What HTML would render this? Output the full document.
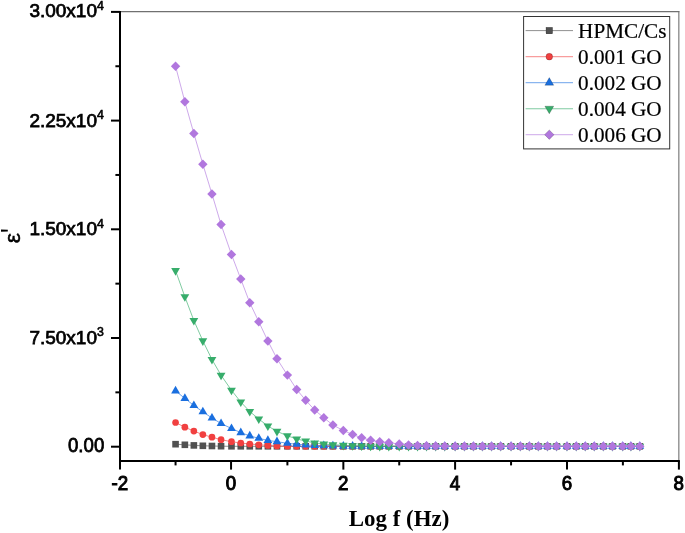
<!DOCTYPE html>
<html><head><meta charset="utf-8"><title>Log f (Hz)</title>
<style>html,body{margin:0;padding:0;background:#fff}svg{display:block}</style>
</head><body>
<svg width="685" height="533" viewBox="0 0 685 533">
<rect width="685" height="533" fill="#fff"/>
<line x1="120.0" y1="11.6" x2="679.35" y2="11.6" stroke="#707070" stroke-width="1.1"/>
<line x1="678.85" y1="11.1" x2="678.85" y2="461.0" stroke="#707070" stroke-width="1.1"/>
<polyline points="175.56,444.20 184.86,444.80 193.86,445.40 202.86,445.80 211.96,446.00 221.06,446.20 231.48,446.30 240.78,446.30 249.78,446.30 258.78,446.30 267.88,446.30 276.98,446.30 287.40,446.30 296.70,446.30 305.70,446.30 314.70,446.30 323.80,446.30 332.90,446.30 343.31,446.30 352.61,446.30 361.61,446.30 370.61,446.30 379.71,446.30 388.81,446.30 399.23,446.30 408.53,446.30 417.53,446.30 426.53,446.30 435.63,446.30 444.73,446.30 455.14,446.30 464.44,446.30 473.44,446.30 482.44,446.30 491.54,446.30 500.64,446.30 511.06,446.30 520.36,446.30 529.36,446.30 538.36,446.30 547.46,446.30 556.56,446.30 566.98,446.30 576.28,446.30 585.28,446.30 594.28,446.30 603.38,446.30 612.48,446.30 622.69,446.30 630.89,446.30 639.79,446.30" fill="none" stroke="#515151" stroke-width="0.8" stroke-opacity="0.8"/>
<g><rect x="172.26" y="440.90" width="6.6" height="6.6" fill="#515151"/><rect x="181.56" y="441.50" width="6.6" height="6.6" fill="#515151"/><rect x="190.56" y="442.10" width="6.6" height="6.6" fill="#515151"/><rect x="199.56" y="442.50" width="6.6" height="6.6" fill="#515151"/><rect x="208.66" y="442.70" width="6.6" height="6.6" fill="#515151"/><rect x="217.76" y="442.90" width="6.6" height="6.6" fill="#515151"/><rect x="228.18" y="443.00" width="6.6" height="6.6" fill="#515151"/><rect x="237.48" y="443.00" width="6.6" height="6.6" fill="#515151"/><rect x="246.48" y="443.00" width="6.6" height="6.6" fill="#515151"/><rect x="255.48" y="443.00" width="6.6" height="6.6" fill="#515151"/><rect x="264.58" y="443.00" width="6.6" height="6.6" fill="#515151"/><rect x="273.68" y="443.00" width="6.6" height="6.6" fill="#515151"/><rect x="284.10" y="443.00" width="6.6" height="6.6" fill="#515151"/><rect x="293.40" y="443.00" width="6.6" height="6.6" fill="#515151"/><rect x="302.40" y="443.00" width="6.6" height="6.6" fill="#515151"/><rect x="311.40" y="443.00" width="6.6" height="6.6" fill="#515151"/><rect x="320.50" y="443.00" width="6.6" height="6.6" fill="#515151"/><rect x="329.60" y="443.00" width="6.6" height="6.6" fill="#515151"/><rect x="340.01" y="443.00" width="6.6" height="6.6" fill="#515151"/><rect x="349.31" y="443.00" width="6.6" height="6.6" fill="#515151"/><rect x="358.31" y="443.00" width="6.6" height="6.6" fill="#515151"/><rect x="367.31" y="443.00" width="6.6" height="6.6" fill="#515151"/><rect x="376.41" y="443.00" width="6.6" height="6.6" fill="#515151"/><rect x="385.51" y="443.00" width="6.6" height="6.6" fill="#515151"/><rect x="395.93" y="443.00" width="6.6" height="6.6" fill="#515151"/><rect x="405.23" y="443.00" width="6.6" height="6.6" fill="#515151"/><rect x="414.23" y="443.00" width="6.6" height="6.6" fill="#515151"/><rect x="423.23" y="443.00" width="6.6" height="6.6" fill="#515151"/><rect x="432.33" y="443.00" width="6.6" height="6.6" fill="#515151"/><rect x="441.43" y="443.00" width="6.6" height="6.6" fill="#515151"/><rect x="451.84" y="443.00" width="6.6" height="6.6" fill="#515151"/><rect x="461.14" y="443.00" width="6.6" height="6.6" fill="#515151"/><rect x="470.14" y="443.00" width="6.6" height="6.6" fill="#515151"/><rect x="479.14" y="443.00" width="6.6" height="6.6" fill="#515151"/><rect x="488.24" y="443.00" width="6.6" height="6.6" fill="#515151"/><rect x="497.34" y="443.00" width="6.6" height="6.6" fill="#515151"/><rect x="507.76" y="443.00" width="6.6" height="6.6" fill="#515151"/><rect x="517.06" y="443.00" width="6.6" height="6.6" fill="#515151"/><rect x="526.06" y="443.00" width="6.6" height="6.6" fill="#515151"/><rect x="535.06" y="443.00" width="6.6" height="6.6" fill="#515151"/><rect x="544.16" y="443.00" width="6.6" height="6.6" fill="#515151"/><rect x="553.26" y="443.00" width="6.6" height="6.6" fill="#515151"/><rect x="563.68" y="443.00" width="6.6" height="6.6" fill="#515151"/><rect x="572.98" y="443.00" width="6.6" height="6.6" fill="#515151"/><rect x="581.98" y="443.00" width="6.6" height="6.6" fill="#515151"/><rect x="590.98" y="443.00" width="6.6" height="6.6" fill="#515151"/><rect x="600.08" y="443.00" width="6.6" height="6.6" fill="#515151"/><rect x="609.18" y="443.00" width="6.6" height="6.6" fill="#515151"/><rect x="619.39" y="443.00" width="6.6" height="6.6" fill="#515151"/><rect x="627.59" y="443.00" width="6.6" height="6.6" fill="#515151"/><rect x="636.49" y="443.00" width="6.6" height="6.6" fill="#515151"/></g>
<polyline points="175.56,422.50 184.86,427.20 193.86,431.10 202.86,434.60 211.96,437.20 221.06,439.70 231.48,441.70 240.78,443.00 249.78,444.00 258.78,444.80 267.88,445.40 276.98,446.00 287.40,446.20 296.70,446.30 305.70,446.30 314.70,446.30 323.80,446.30 332.90,446.30 343.31,446.30 352.61,446.30 361.61,446.30 370.61,446.30 379.71,446.30 388.81,446.30 399.23,446.30 408.53,446.30 417.53,446.30 426.53,446.30 435.63,446.30 444.73,446.30 455.14,446.30 464.44,446.30 473.44,446.30 482.44,446.30 491.54,446.30 500.64,446.30 511.06,446.30 520.36,446.30 529.36,446.30 538.36,446.30 547.46,446.30 556.56,446.30 566.98,446.30 576.28,446.30 585.28,446.30 594.28,446.30 603.38,446.30 612.48,446.30 622.69,446.30 630.89,446.30 639.79,446.30" fill="none" stroke="#F14040" stroke-width="0.8" stroke-opacity="0.8"/>
<g><circle cx="175.56" cy="422.50" r="3.35" fill="#F14040"/><circle cx="184.86" cy="427.20" r="3.35" fill="#F14040"/><circle cx="193.86" cy="431.10" r="3.35" fill="#F14040"/><circle cx="202.86" cy="434.60" r="3.35" fill="#F14040"/><circle cx="211.96" cy="437.20" r="3.35" fill="#F14040"/><circle cx="221.06" cy="439.70" r="3.35" fill="#F14040"/><circle cx="231.48" cy="441.70" r="3.35" fill="#F14040"/><circle cx="240.78" cy="443.00" r="3.35" fill="#F14040"/><circle cx="249.78" cy="444.00" r="3.35" fill="#F14040"/><circle cx="258.78" cy="444.80" r="3.35" fill="#F14040"/><circle cx="267.88" cy="445.40" r="3.35" fill="#F14040"/><circle cx="276.98" cy="446.00" r="3.35" fill="#F14040"/><circle cx="287.40" cy="446.20" r="3.35" fill="#F14040"/><circle cx="296.70" cy="446.30" r="3.35" fill="#F14040"/><circle cx="305.70" cy="446.30" r="3.35" fill="#F14040"/><circle cx="314.70" cy="446.30" r="3.35" fill="#F14040"/><circle cx="323.80" cy="446.30" r="3.35" fill="#F14040"/><circle cx="332.90" cy="446.30" r="3.35" fill="#F14040"/><circle cx="343.31" cy="446.30" r="3.35" fill="#F14040"/><circle cx="352.61" cy="446.30" r="3.35" fill="#F14040"/><circle cx="361.61" cy="446.30" r="3.35" fill="#F14040"/><circle cx="370.61" cy="446.30" r="3.35" fill="#F14040"/><circle cx="379.71" cy="446.30" r="3.35" fill="#F14040"/><circle cx="388.81" cy="446.30" r="3.35" fill="#F14040"/><circle cx="399.23" cy="446.30" r="3.35" fill="#F14040"/><circle cx="408.53" cy="446.30" r="3.35" fill="#F14040"/><circle cx="417.53" cy="446.30" r="3.35" fill="#F14040"/><circle cx="426.53" cy="446.30" r="3.35" fill="#F14040"/><circle cx="435.63" cy="446.30" r="3.35" fill="#F14040"/><circle cx="444.73" cy="446.30" r="3.35" fill="#F14040"/><circle cx="455.14" cy="446.30" r="3.35" fill="#F14040"/><circle cx="464.44" cy="446.30" r="3.35" fill="#F14040"/><circle cx="473.44" cy="446.30" r="3.35" fill="#F14040"/><circle cx="482.44" cy="446.30" r="3.35" fill="#F14040"/><circle cx="491.54" cy="446.30" r="3.35" fill="#F14040"/><circle cx="500.64" cy="446.30" r="3.35" fill="#F14040"/><circle cx="511.06" cy="446.30" r="3.35" fill="#F14040"/><circle cx="520.36" cy="446.30" r="3.35" fill="#F14040"/><circle cx="529.36" cy="446.30" r="3.35" fill="#F14040"/><circle cx="538.36" cy="446.30" r="3.35" fill="#F14040"/><circle cx="547.46" cy="446.30" r="3.35" fill="#F14040"/><circle cx="556.56" cy="446.30" r="3.35" fill="#F14040"/><circle cx="566.98" cy="446.30" r="3.35" fill="#F14040"/><circle cx="576.28" cy="446.30" r="3.35" fill="#F14040"/><circle cx="585.28" cy="446.30" r="3.35" fill="#F14040"/><circle cx="594.28" cy="446.30" r="3.35" fill="#F14040"/><circle cx="603.38" cy="446.30" r="3.35" fill="#F14040"/><circle cx="612.48" cy="446.30" r="3.35" fill="#F14040"/><circle cx="622.69" cy="446.30" r="3.35" fill="#F14040"/><circle cx="630.89" cy="446.30" r="3.35" fill="#F14040"/><circle cx="639.79" cy="446.30" r="3.35" fill="#F14040"/></g>
<polyline points="175.56,390.90 184.86,398.40 193.86,405.50 202.86,411.80 211.96,418.00 221.06,423.50 231.48,428.50 240.78,432.60 249.78,435.90 258.78,438.30 267.88,440.40 276.98,441.70 287.40,443.30 296.70,444.20 305.70,444.90 314.70,445.40 323.80,445.70 332.90,445.90 343.31,446.10 352.61,446.20 361.61,446.30 370.61,446.30 379.71,446.30 388.81,446.30 399.23,446.30 408.53,446.30 417.53,446.30 426.53,446.30 435.63,446.30 444.73,446.30 455.14,446.30 464.44,446.30 473.44,446.30 482.44,446.30 491.54,446.30 500.64,446.30 511.06,446.30 520.36,446.30 529.36,446.30 538.36,446.30 547.46,446.30 556.56,446.30 566.98,446.30 576.28,446.30 585.28,446.30 594.28,446.30 603.38,446.30 612.48,446.30 622.69,446.30 630.89,446.30 639.79,446.30" fill="none" stroke="#1A6FDF" stroke-width="0.8" stroke-opacity="0.8"/>
<g><polygon points="175.56,385.82 171.16,393.44 179.96,393.44" fill="#1A6FDF"/><polygon points="184.86,393.32 180.46,400.94 189.26,400.94" fill="#1A6FDF"/><polygon points="193.86,400.42 189.46,408.04 198.26,408.04" fill="#1A6FDF"/><polygon points="202.86,406.72 198.46,414.34 207.26,414.34" fill="#1A6FDF"/><polygon points="211.96,412.92 207.56,420.54 216.36,420.54" fill="#1A6FDF"/><polygon points="221.06,418.42 216.66,426.04 225.46,426.04" fill="#1A6FDF"/><polygon points="231.48,423.42 227.08,431.04 235.88,431.04" fill="#1A6FDF"/><polygon points="240.78,427.52 236.38,435.14 245.18,435.14" fill="#1A6FDF"/><polygon points="249.78,430.82 245.38,438.44 254.18,438.44" fill="#1A6FDF"/><polygon points="258.78,433.22 254.38,440.84 263.18,440.84" fill="#1A6FDF"/><polygon points="267.88,435.32 263.48,442.94 272.28,442.94" fill="#1A6FDF"/><polygon points="276.98,436.62 272.58,444.24 281.38,444.24" fill="#1A6FDF"/><polygon points="287.40,438.22 283.00,445.84 291.80,445.84" fill="#1A6FDF"/><polygon points="296.70,439.12 292.30,446.74 301.10,446.74" fill="#1A6FDF"/><polygon points="305.70,439.82 301.30,447.44 310.10,447.44" fill="#1A6FDF"/><polygon points="314.70,440.32 310.30,447.94 319.10,447.94" fill="#1A6FDF"/><polygon points="323.80,440.62 319.40,448.24 328.20,448.24" fill="#1A6FDF"/><polygon points="332.90,440.82 328.50,448.44 337.30,448.44" fill="#1A6FDF"/><polygon points="343.31,441.02 338.91,448.64 347.71,448.64" fill="#1A6FDF"/><polygon points="352.61,441.12 348.21,448.74 357.01,448.74" fill="#1A6FDF"/><polygon points="361.61,441.22 357.21,448.84 366.01,448.84" fill="#1A6FDF"/><polygon points="370.61,441.22 366.21,448.84 375.01,448.84" fill="#1A6FDF"/><polygon points="379.71,441.22 375.31,448.84 384.11,448.84" fill="#1A6FDF"/><polygon points="388.81,441.22 384.41,448.84 393.21,448.84" fill="#1A6FDF"/><polygon points="399.23,441.22 394.83,448.84 403.63,448.84" fill="#1A6FDF"/><polygon points="408.53,441.22 404.13,448.84 412.93,448.84" fill="#1A6FDF"/><polygon points="417.53,441.22 413.13,448.84 421.93,448.84" fill="#1A6FDF"/><polygon points="426.53,441.22 422.13,448.84 430.93,448.84" fill="#1A6FDF"/><polygon points="435.63,441.22 431.23,448.84 440.03,448.84" fill="#1A6FDF"/><polygon points="444.73,441.22 440.33,448.84 449.13,448.84" fill="#1A6FDF"/><polygon points="455.14,441.22 450.74,448.84 459.54,448.84" fill="#1A6FDF"/><polygon points="464.44,441.22 460.04,448.84 468.84,448.84" fill="#1A6FDF"/><polygon points="473.44,441.22 469.04,448.84 477.84,448.84" fill="#1A6FDF"/><polygon points="482.44,441.22 478.04,448.84 486.84,448.84" fill="#1A6FDF"/><polygon points="491.54,441.22 487.14,448.84 495.94,448.84" fill="#1A6FDF"/><polygon points="500.64,441.22 496.24,448.84 505.04,448.84" fill="#1A6FDF"/><polygon points="511.06,441.22 506.66,448.84 515.46,448.84" fill="#1A6FDF"/><polygon points="520.36,441.22 515.96,448.84 524.76,448.84" fill="#1A6FDF"/><polygon points="529.36,441.22 524.96,448.84 533.76,448.84" fill="#1A6FDF"/><polygon points="538.36,441.22 533.96,448.84 542.76,448.84" fill="#1A6FDF"/><polygon points="547.46,441.22 543.06,448.84 551.86,448.84" fill="#1A6FDF"/><polygon points="556.56,441.22 552.16,448.84 560.96,448.84" fill="#1A6FDF"/><polygon points="566.98,441.22 562.58,448.84 571.38,448.84" fill="#1A6FDF"/><polygon points="576.28,441.22 571.88,448.84 580.68,448.84" fill="#1A6FDF"/><polygon points="585.28,441.22 580.88,448.84 589.68,448.84" fill="#1A6FDF"/><polygon points="594.28,441.22 589.88,448.84 598.68,448.84" fill="#1A6FDF"/><polygon points="603.38,441.22 598.98,448.84 607.78,448.84" fill="#1A6FDF"/><polygon points="612.48,441.22 608.08,448.84 616.88,448.84" fill="#1A6FDF"/><polygon points="622.69,441.22 618.29,448.84 627.09,448.84" fill="#1A6FDF"/><polygon points="630.89,441.22 626.49,448.84 635.29,448.84" fill="#1A6FDF"/><polygon points="639.79,441.22 635.39,448.84 644.19,448.84" fill="#1A6FDF"/></g>
<polyline points="175.56,270.60 184.86,296.75 193.86,320.50 202.86,340.90 211.96,359.50 221.06,375.25 231.48,390.25 240.78,402.00 249.78,411.50 258.78,419.00 267.88,426.00 276.98,431.40 287.40,435.75 296.70,439.00 305.70,441.00 314.70,443.00 323.80,444.00 332.90,444.80 343.31,445.30 352.61,445.70 361.61,446.00 370.61,446.20 379.71,446.30 388.81,446.30 399.23,446.30 408.53,446.30 417.53,446.30 426.53,446.30 435.63,446.30 444.73,446.30 455.14,446.30 464.44,446.30 473.44,446.30 482.44,446.30 491.54,446.30 500.64,446.30 511.06,446.30 520.36,446.30 529.36,446.30 538.36,446.30 547.46,446.30 556.56,446.30 566.98,446.30 576.28,446.30 585.28,446.30 594.28,446.30 603.38,446.30 612.48,446.30 622.69,446.30 630.89,446.30 639.79,446.30" fill="none" stroke="#37AD6B" stroke-width="0.8" stroke-opacity="0.8"/>
<g><polygon points="175.56,275.68 171.16,268.06 179.96,268.06" fill="#37AD6B"/><polygon points="184.86,301.83 180.46,294.21 189.26,294.21" fill="#37AD6B"/><polygon points="193.86,325.58 189.46,317.96 198.26,317.96" fill="#37AD6B"/><polygon points="202.86,345.98 198.46,338.36 207.26,338.36" fill="#37AD6B"/><polygon points="211.96,364.58 207.56,356.96 216.36,356.96" fill="#37AD6B"/><polygon points="221.06,380.33 216.66,372.71 225.46,372.71" fill="#37AD6B"/><polygon points="231.48,395.33 227.08,387.71 235.88,387.71" fill="#37AD6B"/><polygon points="240.78,407.08 236.38,399.46 245.18,399.46" fill="#37AD6B"/><polygon points="249.78,416.58 245.38,408.96 254.18,408.96" fill="#37AD6B"/><polygon points="258.78,424.08 254.38,416.46 263.18,416.46" fill="#37AD6B"/><polygon points="267.88,431.08 263.48,423.46 272.28,423.46" fill="#37AD6B"/><polygon points="276.98,436.48 272.58,428.86 281.38,428.86" fill="#37AD6B"/><polygon points="287.40,440.83 283.00,433.21 291.80,433.21" fill="#37AD6B"/><polygon points="296.70,444.08 292.30,436.46 301.10,436.46" fill="#37AD6B"/><polygon points="305.70,446.08 301.30,438.46 310.10,438.46" fill="#37AD6B"/><polygon points="314.70,448.08 310.30,440.46 319.10,440.46" fill="#37AD6B"/><polygon points="323.80,449.08 319.40,441.46 328.20,441.46" fill="#37AD6B"/><polygon points="332.90,449.88 328.50,442.26 337.30,442.26" fill="#37AD6B"/><polygon points="343.31,450.38 338.91,442.76 347.71,442.76" fill="#37AD6B"/><polygon points="352.61,450.78 348.21,443.16 357.01,443.16" fill="#37AD6B"/><polygon points="361.61,451.08 357.21,443.46 366.01,443.46" fill="#37AD6B"/><polygon points="370.61,451.28 366.21,443.66 375.01,443.66" fill="#37AD6B"/><polygon points="379.71,451.38 375.31,443.76 384.11,443.76" fill="#37AD6B"/><polygon points="388.81,451.38 384.41,443.76 393.21,443.76" fill="#37AD6B"/><polygon points="399.23,451.38 394.83,443.76 403.63,443.76" fill="#37AD6B"/><polygon points="408.53,451.38 404.13,443.76 412.93,443.76" fill="#37AD6B"/><polygon points="417.53,451.38 413.13,443.76 421.93,443.76" fill="#37AD6B"/><polygon points="426.53,451.38 422.13,443.76 430.93,443.76" fill="#37AD6B"/><polygon points="435.63,451.38 431.23,443.76 440.03,443.76" fill="#37AD6B"/><polygon points="444.73,451.38 440.33,443.76 449.13,443.76" fill="#37AD6B"/><polygon points="455.14,451.38 450.74,443.76 459.54,443.76" fill="#37AD6B"/><polygon points="464.44,451.38 460.04,443.76 468.84,443.76" fill="#37AD6B"/><polygon points="473.44,451.38 469.04,443.76 477.84,443.76" fill="#37AD6B"/><polygon points="482.44,451.38 478.04,443.76 486.84,443.76" fill="#37AD6B"/><polygon points="491.54,451.38 487.14,443.76 495.94,443.76" fill="#37AD6B"/><polygon points="500.64,451.38 496.24,443.76 505.04,443.76" fill="#37AD6B"/><polygon points="511.06,451.38 506.66,443.76 515.46,443.76" fill="#37AD6B"/><polygon points="520.36,451.38 515.96,443.76 524.76,443.76" fill="#37AD6B"/><polygon points="529.36,451.38 524.96,443.76 533.76,443.76" fill="#37AD6B"/><polygon points="538.36,451.38 533.96,443.76 542.76,443.76" fill="#37AD6B"/><polygon points="547.46,451.38 543.06,443.76 551.86,443.76" fill="#37AD6B"/><polygon points="556.56,451.38 552.16,443.76 560.96,443.76" fill="#37AD6B"/><polygon points="566.98,451.38 562.58,443.76 571.38,443.76" fill="#37AD6B"/><polygon points="576.28,451.38 571.88,443.76 580.68,443.76" fill="#37AD6B"/><polygon points="585.28,451.38 580.88,443.76 589.68,443.76" fill="#37AD6B"/><polygon points="594.28,451.38 589.88,443.76 598.68,443.76" fill="#37AD6B"/><polygon points="603.38,451.38 598.98,443.76 607.78,443.76" fill="#37AD6B"/><polygon points="612.48,451.38 608.08,443.76 616.88,443.76" fill="#37AD6B"/><polygon points="622.69,451.38 618.29,443.76 627.09,443.76" fill="#37AD6B"/><polygon points="630.89,451.38 626.49,443.76 635.29,443.76" fill="#37AD6B"/><polygon points="639.79,451.38 635.39,443.76 644.19,443.76" fill="#37AD6B"/></g>
<polyline points="175.56,66.25 184.86,101.75 193.86,133.50 202.86,164.25 211.96,194.00 221.06,224.50 231.48,254.50 240.78,279.00 249.78,302.75 258.78,321.75 267.88,341.00 276.98,358.75 287.40,375.10 296.70,389.50 305.70,400.25 314.70,410.00 323.80,417.75 332.90,425.00 343.31,430.50 352.61,434.50 361.61,437.75 370.61,440.25 379.71,441.75 388.81,442.75 399.23,444.00 408.53,445.00 417.53,445.50 426.53,445.80 435.63,446.00 444.73,446.10 455.14,446.20 464.44,446.30 473.44,446.30 482.44,446.30 491.54,446.30 500.64,446.30 511.06,446.30 520.36,446.30 529.36,446.30 538.36,446.30 547.46,446.30 556.56,446.30 566.98,446.30 576.28,446.30 585.28,446.30 594.28,446.30 603.38,446.30 612.48,446.30 622.69,446.30 630.89,446.30 639.79,446.30" fill="none" stroke="#B177DE" stroke-width="0.8" stroke-opacity="0.8"/>
<g><polygon points="175.56,61.55 180.26,66.25 175.56,70.95 170.86,66.25" fill="#B177DE"/><polygon points="184.86,97.05 189.56,101.75 184.86,106.45 180.16,101.75" fill="#B177DE"/><polygon points="193.86,128.80 198.56,133.50 193.86,138.20 189.16,133.50" fill="#B177DE"/><polygon points="202.86,159.55 207.56,164.25 202.86,168.95 198.16,164.25" fill="#B177DE"/><polygon points="211.96,189.30 216.66,194.00 211.96,198.70 207.26,194.00" fill="#B177DE"/><polygon points="221.06,219.80 225.76,224.50 221.06,229.20 216.36,224.50" fill="#B177DE"/><polygon points="231.48,249.80 236.18,254.50 231.48,259.20 226.78,254.50" fill="#B177DE"/><polygon points="240.78,274.30 245.48,279.00 240.78,283.70 236.08,279.00" fill="#B177DE"/><polygon points="249.78,298.05 254.48,302.75 249.78,307.45 245.08,302.75" fill="#B177DE"/><polygon points="258.78,317.05 263.48,321.75 258.78,326.45 254.08,321.75" fill="#B177DE"/><polygon points="267.88,336.30 272.58,341.00 267.88,345.70 263.18,341.00" fill="#B177DE"/><polygon points="276.98,354.05 281.68,358.75 276.98,363.45 272.28,358.75" fill="#B177DE"/><polygon points="287.40,370.40 292.10,375.10 287.40,379.80 282.70,375.10" fill="#B177DE"/><polygon points="296.70,384.80 301.40,389.50 296.70,394.20 292.00,389.50" fill="#B177DE"/><polygon points="305.70,395.55 310.40,400.25 305.70,404.95 301.00,400.25" fill="#B177DE"/><polygon points="314.70,405.30 319.40,410.00 314.70,414.70 310.00,410.00" fill="#B177DE"/><polygon points="323.80,413.05 328.50,417.75 323.80,422.45 319.10,417.75" fill="#B177DE"/><polygon points="332.90,420.30 337.60,425.00 332.90,429.70 328.20,425.00" fill="#B177DE"/><polygon points="343.31,425.80 348.01,430.50 343.31,435.20 338.61,430.50" fill="#B177DE"/><polygon points="352.61,429.80 357.31,434.50 352.61,439.20 347.91,434.50" fill="#B177DE"/><polygon points="361.61,433.05 366.31,437.75 361.61,442.45 356.91,437.75" fill="#B177DE"/><polygon points="370.61,435.55 375.31,440.25 370.61,444.95 365.91,440.25" fill="#B177DE"/><polygon points="379.71,437.05 384.41,441.75 379.71,446.45 375.01,441.75" fill="#B177DE"/><polygon points="388.81,438.05 393.51,442.75 388.81,447.45 384.11,442.75" fill="#B177DE"/><polygon points="399.23,439.30 403.93,444.00 399.23,448.70 394.53,444.00" fill="#B177DE"/><polygon points="408.53,440.30 413.23,445.00 408.53,449.70 403.83,445.00" fill="#B177DE"/><polygon points="417.53,440.80 422.23,445.50 417.53,450.20 412.83,445.50" fill="#B177DE"/><polygon points="426.53,441.10 431.23,445.80 426.53,450.50 421.83,445.80" fill="#B177DE"/><polygon points="435.63,441.30 440.33,446.00 435.63,450.70 430.93,446.00" fill="#B177DE"/><polygon points="444.73,441.40 449.43,446.10 444.73,450.80 440.03,446.10" fill="#B177DE"/><polygon points="455.14,441.50 459.84,446.20 455.14,450.90 450.44,446.20" fill="#B177DE"/><polygon points="464.44,441.60 469.14,446.30 464.44,451.00 459.74,446.30" fill="#B177DE"/><polygon points="473.44,441.60 478.14,446.30 473.44,451.00 468.74,446.30" fill="#B177DE"/><polygon points="482.44,441.60 487.14,446.30 482.44,451.00 477.74,446.30" fill="#B177DE"/><polygon points="491.54,441.60 496.24,446.30 491.54,451.00 486.84,446.30" fill="#B177DE"/><polygon points="500.64,441.60 505.34,446.30 500.64,451.00 495.94,446.30" fill="#B177DE"/><polygon points="511.06,441.60 515.76,446.30 511.06,451.00 506.36,446.30" fill="#B177DE"/><polygon points="520.36,441.60 525.06,446.30 520.36,451.00 515.66,446.30" fill="#B177DE"/><polygon points="529.36,441.60 534.06,446.30 529.36,451.00 524.66,446.30" fill="#B177DE"/><polygon points="538.36,441.60 543.06,446.30 538.36,451.00 533.66,446.30" fill="#B177DE"/><polygon points="547.46,441.60 552.16,446.30 547.46,451.00 542.76,446.30" fill="#B177DE"/><polygon points="556.56,441.60 561.26,446.30 556.56,451.00 551.86,446.30" fill="#B177DE"/><polygon points="566.98,441.60 571.68,446.30 566.98,451.00 562.28,446.30" fill="#B177DE"/><polygon points="576.28,441.60 580.98,446.30 576.28,451.00 571.58,446.30" fill="#B177DE"/><polygon points="585.28,441.60 589.98,446.30 585.28,451.00 580.58,446.30" fill="#B177DE"/><polygon points="594.28,441.60 598.98,446.30 594.28,451.00 589.58,446.30" fill="#B177DE"/><polygon points="603.38,441.60 608.08,446.30 603.38,451.00 598.68,446.30" fill="#B177DE"/><polygon points="612.48,441.60 617.18,446.30 612.48,451.00 607.78,446.30" fill="#B177DE"/><polygon points="622.69,441.60 627.39,446.30 622.69,451.00 617.99,446.30" fill="#B177DE"/><polygon points="630.89,441.60 635.59,446.30 630.89,451.00 626.19,446.30" fill="#B177DE"/><polygon points="639.79,441.60 644.49,446.30 639.79,451.00 635.09,446.30" fill="#B177DE"/></g>
<g stroke="#000" stroke-width="2" fill="none">
<line x1="120.0" y1="10.9" x2="120.0" y2="462.0"/>
<line x1="119.0" y1="461.0" x2="679.85" y2="461.0"/>
<line x1="111.0" y1="446.70" x2="120.0" y2="446.70"/>
<line x1="111.0" y1="338.00" x2="120.0" y2="338.00"/>
<line x1="111.0" y1="229.30" x2="120.0" y2="229.30"/>
<line x1="111.0" y1="120.60" x2="120.0" y2="120.60"/>
<line x1="111.0" y1="11.90" x2="120.0" y2="11.90"/>
<line x1="115.4" y1="392.35" x2="120.0" y2="392.35"/>
<line x1="115.4" y1="283.65" x2="120.0" y2="283.65"/>
<line x1="115.4" y1="174.95" x2="120.0" y2="174.95"/>
<line x1="115.4" y1="66.25" x2="120.0" y2="66.25"/>
<line x1="120.00" y1="461.0" x2="120.00" y2="469.6"/>
<line x1="231.05" y1="461.0" x2="231.05" y2="469.6"/>
<line x1="343.35" y1="461.0" x2="343.35" y2="469.6"/>
<line x1="455.10" y1="461.0" x2="455.10" y2="469.6"/>
<line x1="567.00" y1="461.0" x2="567.00" y2="469.6"/>
<line x1="678.90" y1="461.0" x2="678.90" y2="469.6"/>
<line x1="175.56" y1="461.0" x2="175.56" y2="465.4"/>
<line x1="287.40" y1="461.0" x2="287.40" y2="465.4"/>
<line x1="399.23" y1="461.0" x2="399.23" y2="465.4"/>
<line x1="511.06" y1="461.0" x2="511.06" y2="465.4"/>
<line x1="622.89" y1="461.0" x2="622.89" y2="465.4"/>
</g>
<g font-family="'Liberation Sans', Arial, sans-serif" font-size="19" fill="#000" stroke="#000" stroke-width="0.75">
<text transform="translate(104.25,451.85) scale(0.962,1)" x="0" y="0" font-size="19.4" text-anchor="end">0.00</text>
<text x="97" y="343.90" text-anchor="end">7.50x10</text>
<text x="97.1" y="336.25" font-size="12.3" stroke-width="0.6">3</text>
<text x="97" y="235.35" text-anchor="end">1.50x10</text>
<text x="97.1" y="227.70" font-size="12.3" stroke-width="0.6">4</text>
<text x="97" y="126.50" text-anchor="end">2.25x10</text>
<text x="97.1" y="118.85" font-size="12.3" stroke-width="0.6">4</text>
<text x="97" y="17.45" text-anchor="end">3.00x10</text>
<text x="97.1" y="9.80" font-size="12.3" stroke-width="0.6">4</text>
<text transform="translate(119.85,489.9) scale(0.96,1)" x="0" y="0" font-size="19.5" stroke-width="1.0" text-anchor="middle">-2</text>
<text transform="translate(230.90,489.9) scale(0.96,1)" x="0" y="0" font-size="19.5" stroke-width="1.0" text-anchor="middle">0</text>
<text transform="translate(343.20,489.9) scale(0.96,1)" x="0" y="0" font-size="19.5" stroke-width="1.0" text-anchor="middle">2</text>
<text transform="translate(454.95,489.9) scale(0.96,1)" x="0" y="0" font-size="19.5" stroke-width="1.0" text-anchor="middle">4</text>
<text transform="translate(566.85,489.9) scale(0.96,1)" x="0" y="0" font-size="19.5" stroke-width="1.0" text-anchor="middle">6</text>
<text transform="translate(678.75,489.9) scale(0.96,1)" x="0" y="0" font-size="19.5" stroke-width="1.0" text-anchor="middle">8</text>
</g>
<text transform="translate(399.1,526.1) scale(0.985,1)" x="0" y="0" text-anchor="middle" font-family="'Liberation Serif', 'Times New Roman', serif" font-weight="bold" font-size="23.3" fill="#000">Log f (Hz)</text>
<g transform="translate(19.6,243.2) rotate(-90)" font-family="'Liberation Sans', Arial, sans-serif" fill="#000"><text transform="scale(1.087,1)" x="0" y="0" font-size="21.2" stroke="#000" stroke-width="0.5">ε</text><text transform="translate(10.16,3.48) scale(1.9,2.48)" x="0" y="0" font-size="13">'</text></g>
<rect x="523.6" y="16.5" width="146.10000000000002" height="132.4" fill="#fff" stroke="#333" stroke-width="1"/>
<g font-family="'Liberation Serif', 'Times New Roman', serif" font-size="21.2" fill="#000" stroke="#000" stroke-width="0.2">
<line x1="525.6" y1="30.6" x2="573" y2="30.6" stroke="#515151" stroke-width="0.8" stroke-opacity="0.8"/>
<rect x="546.00" y="27.30" width="6.6" height="6.6" fill="#515151"/>
<text x="578.1" y="37.80">HPMC/Cs</text>
<line x1="525.6" y1="56.7" x2="573" y2="56.7" stroke="#F14040" stroke-width="0.8" stroke-opacity="0.8"/>
<circle cx="549.30" cy="56.70" r="3.35" fill="#F14040"/>
<text x="578.1" y="63.90">0.001 GO</text>
<line x1="525.6" y1="82.7" x2="573" y2="82.7" stroke="#1A6FDF" stroke-width="0.8" stroke-opacity="0.8"/>
<polygon points="549.30,77.62 544.90,85.24 553.70,85.24" fill="#1A6FDF"/>
<text x="578.1" y="89.90">0.002 GO</text>
<line x1="525.6" y1="108.75" x2="573" y2="108.75" stroke="#37AD6B" stroke-width="0.8" stroke-opacity="0.8"/>
<polygon points="549.30,113.83 544.90,106.21 553.70,106.21" fill="#37AD6B"/>
<text x="578.1" y="115.90">0.004 GO</text>
<line x1="525.6" y1="134.7" x2="573" y2="134.7" stroke="#B177DE" stroke-width="0.8" stroke-opacity="0.8"/>
<polygon points="549.30,130.00 554.00,134.70 549.30,139.40 544.60,134.70" fill="#B177DE"/>
<text x="578.1" y="142.00">0.006 GO</text>
</g>
</svg>
</body></html>
